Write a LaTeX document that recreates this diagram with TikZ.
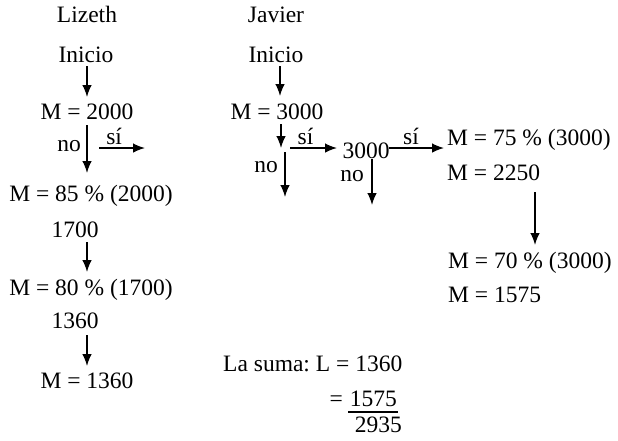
\documentclass[tikz,border=0pt]{standalone}
\usepackage{fontspec}
\setmainfont{Liberation Serif}
\usetikzlibrary{arrows.meta}
\begin{document}
\frenchspacing
\begin{tikzpicture}[x=1pt,y=-1pt,
  txt/.style={inner sep=0pt,anchor=base,font=\fontsize{23.5}{28}\selectfont},
  txtl/.style={txt,anchor=base west},
  txtr/.style={txt,anchor=base east},
  arr/.style={line width=1.4pt,-{Latex[length=12pt,width=9.5pt]}},
  lab/.style={txt,anchor=base,yshift=4pt}]
\useasboundingbox[fill=white] (0,0) rectangle (618,440);
% ---------- Lizeth ----------
\node[txt] (liz) at (87,22) {Lizeth};
\node[txt] (ini1) at (86,62) {Inicio};
\node[txt] (m1) at (87,119) {M = 2000};
\node[txtr] (no1) at (81,151) {no};
\node[txt] (m2) at (91,201) {M = 85 \% (2000)};
\node[txt] (v1) at (75,237) {1700};
\node[txt] (m3) at (91,295) {M = 80 \% (1700)};
\node[txt] (v2) at (75,328) {1360};
\node[txt] (m4) at (87,388) {M = 1360};
\coordinate (a1s) at (87,66);  \coordinate (a1e) at (87,97);
\coordinate (a2s) at (87,125); \coordinate (a2e) at (87,173);
\coordinate (a3s) at (99,148); \coordinate (a3e) at (145,148);
\coordinate (a4s) at (87,242); \coordinate (a4e) at (87,272);
\coordinate (a5s) at (87,335); \coordinate (a5e) at (87,366);
\draw[arr] (a1s) -- (a1e);
\draw[arr] (a2s) -- (a2e);
\draw[arr] (a3s) -- node[lab,pos=0.33] (si1) {sí} (a3e);
\draw[arr] (a4s) -- (a4e);
\draw[arr] (a5s) -- (a5e);
% ---------- Javier ----------
\node[txt] (jav) at (276,22) {Javier};
\node[txt] (ini2) at (276,62) {Inicio};
\node[txt] (j1) at (277,119) {M = 3000};
\node[txtr] (no2) at (278,172) {no};
\node[txt] (j2) at (366,158) {3000};
\node[txtr] (no3) at (364,181) {no};
\node[txtl] (j3) at (447,145) {M = 75 \% (3000)};
\node[txtl] (j4) at (447,180) {M = 2250};
\node[txtl] (j5) at (448,268) {M = 70 \% (3000)};
\node[txtl] (j6) at (448,302) {M = 1575};
\coordinate (b1s) at (280,66);  \coordinate (b1e) at (280,96);
\coordinate (b2s) at (281,124); \coordinate (b2e) at (281,148);
\coordinate (b3s) at (290,148); \coordinate (b3e) at (337,148);
\coordinate (b4s) at (285,152); \coordinate (b4e) at (285,197);
\coordinate (b5s) at (372,159); \coordinate (b5e) at (372,205);
\coordinate (b6s) at (389,148); \coordinate (b6e) at (444,148);
\coordinate (b7s) at (535,192); \coordinate (b7e) at (535,245);
\draw[arr] (b1s) -- (b1e);
\draw[arr] (b2s) -- (b2e);
\draw[arr] (b3s) -- node[lab,pos=0.33] (si2) {sí} (b3e);
\draw[arr] (b4s) -- (b4e);
\draw[arr] (b5s) -- (b5e);
\draw[arr] (b6s) -- node[lab,pos=0.4] (si3) {sí} (b6e);
\draw[arr] (b7s) -- (b7e);
% ---------- suma ----------
\node[txtl] (s1) at (223,371) {La suma: L = 1360};
\node[txtr] (s2eq) at (343,406) {=};
\node[txtr] (s2) at (397,406) {1575};
\node[txtr] (s3) at (402,432) {2935};
\coordinate (u1) at (348,412); \coordinate (u2) at (398,412);
\draw[line width=1.2pt] (u1) -- (u2);
\end{tikzpicture}
\end{document}
